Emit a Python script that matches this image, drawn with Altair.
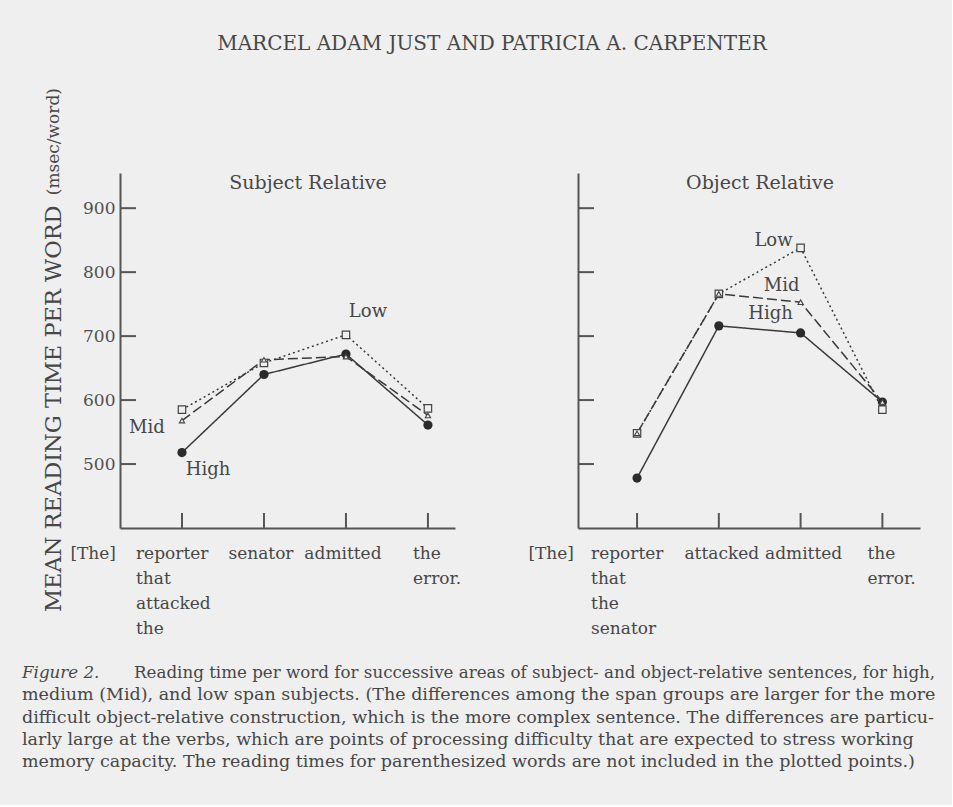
import altair as alt
import pandas as pd

# ---- data -------------------------------------------------------------
spans = ["High", "Mid", "Low"]
positions = [1, 2, 3, 4]

subject_areas = ["reporter\nthat\nattacked\nthe", "senator", "admitted", "the\nerror."]
object_areas = ["reporter\nthat\nthe\nsenator", "attacked", "admitted", "the\nerror."]

subject_high = [518, 640, 672, 561]
subject_mid = [568, 663, 668, 576]
subject_low = [585, 658, 702, 587]

object_high = [478, 716, 705, 597]
object_mid = [548, 766, 753, 597]
object_low = [548, 766, 838, 585]

y_ticks = [500, 600, 700, 800, 900]

header = "MARCEL ADAM JUST AND PATRICIA A. CARPENTER"
caption_lead = "Figure 2."
caption_lines = [
    "Reading time per word for successive areas of subject- and object-relative sentences, for high,",
    "medium (Mid), and low span subjects. (The differences among the span groups are larger for the more",
    "difficult object-relative construction, which is the more complex sentence. The differences are particu-",
    "larly large at the verbs, which are points of processing difficulty that are expected to stress working",
    "memory capacity. The reading times for parenthesized words are not included in the plotted points.)",
]

# ---- styling ----------------------------------------------------------
BG = "#efefef"
INK = "#3a3a3a"
AXIS_INK = "#555555"
TEXT_INK = "#474747"
FONT = "DejaVu Serif"
H = 355
Y_DOMAIN = [400, 955]


def long_table(high, mid, low):
    rows = []
    for name, vals in zip(spans, [high, mid, low]):
        for p, v in zip(positions, vals):
            rows.append({"pos": p, "rt": v, "span": name})
    return pd.DataFrame(rows)


def panel(df, areas, x_domain, first, title, title_x, mid_dx, label_spots):
    base = alt.Chart(df)
    x = alt.X("pos:Q", scale=alt.Scale(domain=x_domain, nice=False, zero=False),
              axis=alt.Axis(domain=True, domainColor=AXIS_INK, domainWidth=2,
                            ticks=False, labels=False, grid=False, title=None))
    y_axis = alt.Axis(domain=True, domainColor=AXIS_INK, domainWidth=2, ticks=False,
                      grid=False, title=None, values=y_ticks, labels=first,
                      labelFont=FONT, labelFontSize=17, labelColor="#505050",
                      labelPadding=5)
    y = alt.Y("rt:Q", scale=alt.Scale(domain=Y_DOMAIN, nice=False, zero=False), axis=y_axis)

    lines = base.mark_line(color=INK, strokeWidth=1.5).encode(
        x=x, y=y,
        strokeDash=alt.StrokeDash("span:N", scale=alt.Scale(domain=spans, range=[[1, 0], [10, 4], [2, 3]]),
                                  legend=None),
        order="pos:Q",
    )
    high_pts = base.transform_filter("datum.span == 'High'").mark_point(
        shape="circle", filled=True, size=85, color="#2b2b2b", opacity=1).encode(x="pos:Q", y="rt:Q")
    low_pts = base.transform_filter("datum.span == 'Low'").mark_point(
        shape="square", size=55, fill=BG, stroke="#444444", strokeWidth=1.2, opacity=1).encode(x="pos:Q", y="rt:Q")
    mid_pts = base.transform_filter("datum.span == 'Mid'").mark_point(
        shape="triangle-up", size=28, fill=BG, stroke="#444444", strokeWidth=1.1, opacity=1).encode(x="pos:Q", y="rt:Q")

    # inward tick marks on both axes
    yt = alt.Chart(pd.DataFrame({"v": y_ticks})).mark_rule(color=AXIS_INK, strokeWidth=2).encode(
        y=alt.Y("v:Q", scale=alt.Scale(domain=Y_DOMAIN, nice=False, zero=False)),
        x=alt.value(0), x2=alt.value(16))
    xt = alt.Chart(pd.DataFrame({"pos": positions})).mark_rule(color=AXIS_INK, strokeWidth=2).encode(
        x="pos:Q", y=alt.value(H), y2=alt.value(H - 15))

    # category labels under the axis
    lab = pd.DataFrame({"pos": positions, "txt": areas})
    txt_style = dict(font=FONT, fontSize=17, color=TEXT_INK, lineBreak="\n", baseline="top", lineHeight=25)
    lab_first = alt.Chart(lab).transform_filter("datum.pos == 1").mark_text(
        align="left", dx=-46, **txt_style).encode(x="pos:Q", y=alt.value(H + 18), text="txt:N")
    lab_mid = alt.Chart(lab).transform_filter("datum.pos == 2 || datum.pos == 3").mark_text(
        align="center", dx=mid_dx, **txt_style).encode(x="pos:Q", y=alt.value(H + 18), text="txt:N")
    lab_last = alt.Chart(lab).transform_filter("datum.pos == 4").mark_text(
        align="left", dx=-15, **txt_style).encode(x="pos:Q", y=alt.value(H + 18), text="txt:N")
    the_lab = alt.Chart(lab).transform_filter("datum.pos == 1").mark_text(
        align="right", text="[The]", **txt_style).encode(x=alt.value(-4), y=alt.value(H + 18))

    ttl = alt.Chart(lab).transform_filter("datum.pos == 1").mark_text(
        text=title, font=FONT, fontSize=19, color=TEXT_INK, align="center", baseline="middle").encode(
        x=alt.value(title_x), y=alt.value(10))

    # span names next to their lines
    names = []
    for span_name, pos, dx, dy, align in label_spots:
        names.append(base.transform_filter(f"datum.span == '{span_name}' && datum.pos == {pos}").mark_text(
            text=span_name, font=FONT, fontSize=18, color=TEXT_INK, align=align, baseline="middle",
            dx=dx, dy=dy).encode(x="pos:Q", y="rt:Q"))

    return [lines, yt, xt, high_pts, low_pts, mid_pts, lab_first, lab_mid, lab_last, the_lab, ttl] + names


subj_df = long_table(subject_high, subject_mid, subject_low)
obj_df = long_table(object_high, object_mid, object_low)

left_layers = panel(
    subj_df, subject_areas, [0.244, 4.33], True, "Subject Relative", 188, -3,
    [("Low", 3, 22, -23, "center"), ("Mid", 1, -35, 7, "center"), ("High", 1, 26, 17, "center")])
right_layers = panel(
    obj_df, object_areas, [0.278, 4.46], False, "Object Relative", 182, 3,
    [("Low", 3, -8, -7, "right"), ("Mid", 3, -19, -16, "center"), ("High", 3, -30, -19, "center")])

one = pd.DataFrame({"k": [0]})
# header, y-axis title and caption live with the left panel
head = alt.Chart(one).mark_text(text=header, font=FONT, fontSize=20, color=TEXT_INK,
                                align="center", baseline="middle").encode(x=alt.value(372), y=alt.value(-129))
ytitle = alt.Chart(one).mark_text(text="MEAN READING TIME PER WORD", font=FONT, fontSize=22.5, color=TEXT_INK,
                                  angle=270, align="left", baseline="middle").encode(x=alt.value(-66), y=alt.value(439))
yunit = alt.Chart(one).mark_text(text="(msec/word)", font=FONT, fontSize=17, color=TEXT_INK,
                                 angle=270, align="right", baseline="middle").encode(x=alt.value(-66), y=alt.value(-85))
cap = [alt.Chart(one).mark_text(text=caption_lead, font=FONT, fontSize=16.7, fontStyle="italic", color=TEXT_INK,
                                align="left", baseline="middle").encode(x=alt.value(-98), y=alt.value(500))]
for i, line in enumerate(caption_lines):
    cap.append(alt.Chart(one).mark_text(text=line, font=FONT, fontSize=16.7 if i == 0 else 17.5, color=TEXT_INK,
                                        align="left", baseline="middle").encode(
        x=alt.value(-98 + (112 if i == 0 else 0)), y=alt.value(500 + 22.3 * i)))

left = alt.layer(*left_layers, head, ytitle, yunit, *cap).properties(width=335, height=H)
right = alt.layer(*right_layers).properties(width=342, height=H)

chart = alt.hconcat(left, right, spacing=123, bounds="flush").properties(
    background=BG,
    padding={"left": 22, "top": 34, "right": 16, "bottom": 34},
).configure_view(stroke=None)

chart.save("out.html", embed_options={"renderer": "svg", "actions": False})
